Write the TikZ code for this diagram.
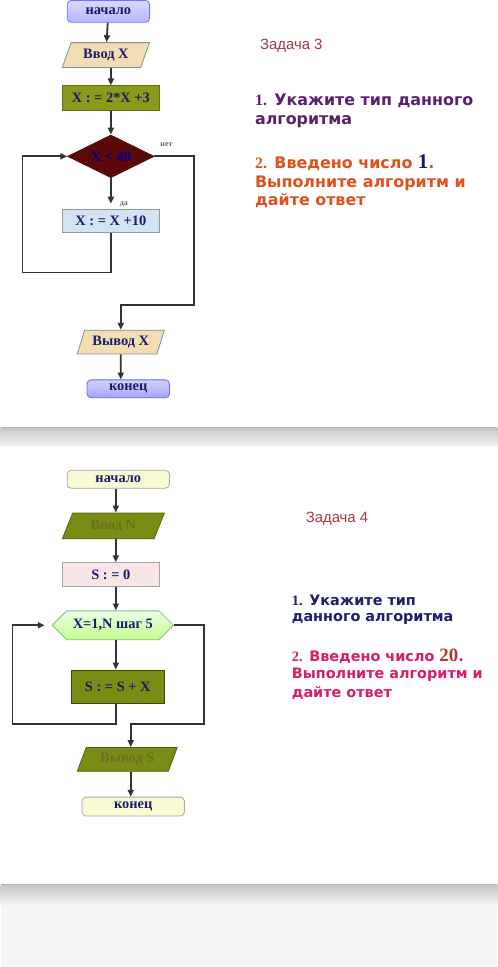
\documentclass[tikz,border=0pt]{standalone}
\usepackage{fontspec}
\setmainfont{Liberation Serif}
\newfontfamily\taskfont{DejaVu Sans}
\newfontfamily\headfont{Liberation Sans}
\usetikzlibrary{shapes.geometric,shapes.symbols,arrows.meta}
\definecolor{navy}{HTML}{1A1A6E}
\definecolor{wheatf}{HTML}{F3DEB4}
\definecolor{olivea}{HTML}{8C9A1C}
\definecolor{oliveb}{HTML}{7A8C14}
\definecolor{maroon}{HTML}{5A0808}
\definecolor{lblue}{HTML}{D2E3F3}
\definecolor{lpink}{HTML}{F9E5E5}
\definecolor{lyellow}{HTML}{FAFAD2}
\definecolor{purp}{HTML}{5A1F6E}
\definecolor{orred}{HTML}{E2501E}
\definecolor{crims}{HTML}{D81E6A}
\definecolor{headA}{HTML}{9A3A4A}
\definecolor{headB}{HTML}{B03838}
\definecolor{navyb}{HTML}{1E1E6E}
\definecolor{olivetext}{HTML}{6A7020}
\begin{document}
\begin{tikzpicture}[x=1pt,y=-1pt,
  box/.style={draw, line width=0.8pt, inner sep=0pt, font=\fontsize{14.5}{14.5}\selectfont\bfseries, text=navy},
  term/.style={box, rounded corners=4pt},
  para/.style={box, trapezium, trapezium left angle=64, trapezium right angle=116, trapezium stretches=true},
  flow/.style={-{Triangle[length=7pt,width=6pt]}, line width=1.8pt, draw=black!80},
  tiny/.style={font=\fontsize{8}{8}\selectfont\bfseries, text=black!60},
  taskA/.style={anchor=base west, inner sep=0pt, font=\taskfont\bfseries\fontsize{16}{16}\selectfont},
  taskB/.style={anchor=base west, inner sep=0pt, font=\taskfont\bfseries\fontsize{14.5}{14.5}\selectfont}
]
% backgrounds
\fill[black!4] (0,0) rectangle (500,967);
\fill[white] (0,0) rectangle (500,423);
\shade[top color=black!22, bottom color=black!5] (0,424) rectangle (500,443);
\fill[white] (0,443) rectangle (500,883);
\shade[top color=black!22, bottom color=black!4] (0,885) rectangle (500,905);
\draw[black!30, line width=1.2pt] (0,424) -- (500,424);
\draw[black!30, line width=1.2pt] (0,884) -- (500,884);

% ---------- Task 3 flowchart ----------
\node[term, draw=blue!55, top color=blue!15, bottom color=blue!28, minimum width=83, minimum height=22] (s1) at (108.5,5) {начало};
\node[para, draw=black!45, fill=wheatf, minimum width=88, minimum height=25] (in1) at (106,49) {Ввод X};
\node[box, draw=olivea!70!black, fill=olivea, minimum width=98, minimum height=25] (p1) at (111,92.5) {X : = 2*X +3};
\node[box, diamond, draw=maroon, fill=maroon, minimum width=87, minimum height=43, aspect=2, text=blue!60!black] (d1) at (111,151) {X < 40};
\node[box, draw=black!40, fill=lblue, minimum width=98, minimum height=24] (p2) at (111,216) {X : = X +10};
\node[para, draw=black!45, fill=wheatf, minimum width=88, minimum height=24] (out1) at (121,338) {Вывод X};
\node[term, draw=blue!60, top color=blue!18, bottom color=blue!35, minimum width=83, minimum height=18] (e1) at (128.5,385) {конец};
\node[tiny] (no1) at (167,139) {нет};
\node[tiny] (yes1) at (124,199) {да};
\coordinate (l1) at (22,268);
\coordinate (r1) at (195,301);

\draw[flow] (s1) -- (in1);
\draw[flow] (in1.south -| p1.north) -- (p1);
\draw[flow] (p1) -- (d1);
\draw[flow, shorten >=5pt] (d1) -- (p2);
\draw[flow] (p2.south) |- (l1) |- (d1.west);
\draw[flow] (d1.east) -| (r1) -| (out1.north);
\draw[flow] (out1) -- (out1 |- e1.north);

% ---------- Task 3 text ----------
\node[anchor=base west, inner sep=0pt, font=\headfont\fontsize{15}{15}\selectfont, text=headA] (h3) at (261,43) {Задача 3};
\node[taskA, text=purp] (q31a) at (256,100) {{\rmfamily 1.} Укажите тип данного};
\node[taskA, text=purp] (q31b) at (256,119) {алгоритма};
\node[taskA, text=orred] (q32a) at (256,163) {{\rmfamily 2.} Введено число {\rmfamily\fontsize{21}{21}\selectfont\textcolor{navy}{1}}.};
\node[taskA, text=orred] (q32b) at (256,182.5) {Выполните алгоритм и};
\node[taskA, text=orred] (q32c) at (256,200.5) {дайте ответ};

% ---------- Task 4 flowchart ----------
\node[term, draw=black!35, fill=lyellow, minimum width=103, minimum height=18] (s2) at (118.5,476) {начало};
\node[para, draw=oliveb!70!black, fill=oliveb, text=olivetext, minimum width=103, minimum height=26] (in2) at (113.5,523) {Ввод N};
\node[box, draw=black!35, fill=lpink, minimum width=98, minimum height=24] (p3) at (111,572) {S : = 0};
\node[box, signal, signal to=west and east, signal pointer angle=90, draw=green!50!black!50, top color=yellow!15!green!10, bottom color=yellow!50!green!45, minimum width=122, minimum height=29] (h2) at (113,623) {X=1,N шаг 5};
\node[box, draw=oliveb!50!black, fill=oliveb, minimum width=94, minimum height=34] (p4) at (118,685) {S : = S + X};
\node[para, draw=oliveb!70!black, fill=oliveb, text=olivetext, minimum width=101, minimum height=24] (out2) at (127.5,758) {Вывод S};
\node[term, draw=black!35, fill=lyellow, minimum width=103, minimum height=19] (e2) at (133.5,805.5) {конец};
\coordinate (l2) at (12,722);
\coordinate (r2) at (205,722);

\draw[flow] (s2.south -| 116,0) -- (in2.north -| 116,0);
\draw[flow] (in2.south -| 116,0) -- (p3.north -| 116,0);
\draw[flow] (p3.south -| 116,0) -- (h2.north -| 116,0);
\draw[flow] (h2.south -| 116,0) -- (p4.north -| 116,0);
\draw[flow, shorten >=7pt] (p4.south -| 116,0) |- (l2) |- (h2.west);
\draw[flow] (h2.east) -| (r2) -| (out2.north -| 131,0);
\draw[flow] (out2.south -| 131,0) -- (e2.north -| 131,0);

% ---------- Task 4 text ----------
\node[anchor=base west, inner sep=0pt, font=\headfont\fontsize{15}{15}\selectfont, text=headB] (h4) at (307,520) {Задача 4};
\node[taskB, text=navyb] (q41a) at (293,603.5) {{\rmfamily 1.} Укажите тип};
\node[taskB, text=navyb] (q41b) at (293,619.5) {данного алгоритма};
\node[taskB, text=crims] (q42a) at (293,659) {{\rmfamily 2.} Введено число {\rmfamily\fontsize{19}{19}\selectfont\textcolor{headB}{20}}.};
\node[taskB, text=crims] (q42b) at (293,677) {Выполните алгоритм и};
\node[taskB, text=crims] (q42c) at (293,696) {дайте ответ};
\end{tikzpicture}
\end{document}
